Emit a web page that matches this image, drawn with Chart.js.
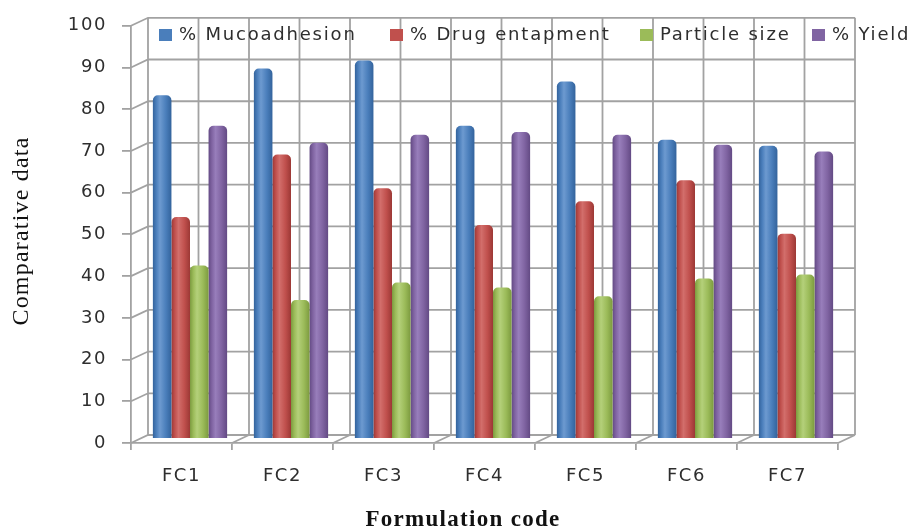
<!DOCTYPE html>
<html>
<head>
<meta charset="utf-8">
<script src="https://cdn.jsdelivr.net/npm/chart.js@4/dist/chart.umd.min.js"></script>
<style>
  html, body { margin: 0; padding: 0; background: #ffffff; }
  #wrap { width: 912px; height: 528px; }
</style>
</head>
<body>
<div id="wrap"><canvas id="chart" width="912" height="528"></canvas></div>
<script>
// Formulation codes on the category axis
const categories = ['FC1', 'FC2', 'FC3', 'FC4', 'FC5', 'FC6', 'FC7'];

// Measured values per formulation
const mucoadhesion   = [82.4, 88.8, 90.7, 75.1, 85.7, 71.7, 70.3];
const drugEntrapment = [53.2, 68.2, 60.1, 51.3, 57.0, 62.0, 49.2];
const particleSize   = [41.6, 33.3, 37.5, 36.3, 34.2, 38.5, 39.4];
const yieldPercent   = [75.1, 71.0, 72.9, 73.6, 72.9, 70.5, 68.9];

const seriesNames = ['% Mucoadhesion', '% Drug entapment', 'Particle size', '% Yield'];

// Value axis range
const yMin = 0, yMax = 100, yStep = 10;

const yTitle = 'Comparative data';
const xTitle = 'Formulation code';

// Cylinder shading: edge, body, highlight
const palette = [
  { edge: '#33639c', base: '#4a7ebb', light: '#6d9ad0' },
  { edge: '#9c3835', base: '#c0504d', light: '#d26e6b' },
  { edge: '#7c9a3f', base: '#9bbb59', light: '#b4d07a' },
  { edge: '#634a84', base: '#8064a2', light: '#987ebb' }
];

const CATEGORY_PCT = 0.735;
const DEPTH_X = 17, DEPTH_Y = -8;          // back wall offset of the 3-D box
const BAR_SHIFT_X = 8.5, BAR_SHIFT_Y = -4; // bars stand at mid depth
const LEGEND_X = [159, 390, 640, 812];     // left edge of each legend swatch
const LEGEND_Y = 35;
const GRID = '#a2a2a2';
const SANS = '"DejaVu Sans", sans-serif';
const SERIF = '"Liberation Serif", "Times New Roman", serif';

function cylinderFill(ctx) {
  const chart = ctx.chart;
  const pal = palette[ctx.datasetIndex];
  const xs = chart.scales && chart.scales.x;
  if (!xs || !chart.chartArea || ctx.type !== 'data') return pal.base;
  const cat = xs.width / categories.length;
  const group = cat * CATEGORY_PCT;
  const bw = group / seriesNames.length;
  const left = xs.getPixelForValue(ctx.dataIndex) - group / 2 + ctx.datasetIndex * bw;
  const g = chart.ctx.createLinearGradient(left, 0, left + bw, 0);
  g.addColorStop(0, pal.edge);
  g.addColorStop(0.18, pal.base);
  g.addColorStop(0.38, pal.light);
  g.addColorStop(0.7, pal.base);
  g.addColorStop(1, pal.edge);
  return g;
}

// Back wall, floor and side wall of the 3-D frame
const wallPlugin = {
  id: 'wall',
  beforeDraw(chart) {
    chart.ctx.letterSpacing = '1.6px';
  },
  beforeDatasetsDraw(chart) {
    const ctx = chart.ctx;
    const xs = chart.scales.x, ys = chart.scales.y;
    const x0 = xs.left, x1 = xs.right;
    const half = xs.width / categories.length / 2;
    ctx.save();
    ctx.strokeStyle = GRID;
    ctx.lineWidth = 1.8;
    ctx.beginPath();
    for (let v = yMin; v <= yMax; v += yStep) {
      const y = ys.getPixelForValue(v);
      ctx.moveTo(x0, y);
      ctx.lineTo(x0 + DEPTH_X, y + DEPTH_Y);
      ctx.lineTo(x1 + DEPTH_X, y + DEPTH_Y);
    }
    const yTop = ys.getPixelForValue(yMax) + DEPTH_Y;
    const yBot = ys.getPixelForValue(yMin) + DEPTH_Y;
    for (let k = 0; k <= categories.length * 2; k++) {
      const x = x0 + k * half + DEPTH_X;
      ctx.moveTo(x, yTop);
      ctx.lineTo(x, yBot);
    }
    const yf = ys.getPixelForValue(yMin);
    for (let k = 1; k <= categories.length; k++) {
      const x = x0 + k * half * 2;
      ctx.moveTo(x, yf);
      ctx.lineTo(x + DEPTH_X, yf + DEPTH_Y);
    }
    ctx.stroke();
    ctx.restore();
    ctx.save();
    ctx.translate(BAR_SHIFT_X, BAR_SHIFT_Y);
  },
  afterDatasetsDraw(chart) {
    chart.ctx.restore();
  },
  afterDraw(chart) {
    const ctx = chart.ctx;
    ctx.save();
    // legend across the top of the wall
    ctx.font = '18px ' + SANS;
    ctx.letterSpacing = '1.8px';
    ctx.textBaseline = 'middle';
    ctx.textAlign = 'left';
    chart.data.datasets.forEach((ds, i) => {
      const x = LEGEND_X[i];
      ctx.fillStyle = palette[i].base;
      ctx.fillRect(x, LEGEND_Y - 6, 13, 12);
      ctx.fillStyle = '#2e2e2e';
      ctx.fillText(ds.label, x + 20, LEGEND_Y);
    });
    // axis titles
    ctx.fillStyle = '#111111';
    ctx.font = '24px ' + SERIF;
    ctx.letterSpacing = '1.2px';
    ctx.textAlign = 'center';
    ctx.textBaseline = 'middle';
    ctx.save();
    ctx.translate(22, 231);
    ctx.rotate(-Math.PI / 2);
    ctx.fillText(yTitle, 0, 0);
    ctx.restore();
    ctx.font = 'bold 23px ' + SERIF;
    ctx.letterSpacing = '1.3px';
    ctx.textBaseline = 'alphabetic';
    ctx.fillText(xTitle, 463, 526);
    ctx.restore();
    ctx.letterSpacing = '0px';
  }
};

const seriesValues = [mucoadhesion, drugEntrapment, particleSize, yieldPercent];

new Chart(document.getElementById('chart'), {
  type: 'bar',
  data: {
    labels: categories,
    datasets: seriesNames.map((name, i) => ({
      label: name,
      data: seriesValues[i],
      backgroundColor: cylinderFill,
      borderWidth: 0,
      borderRadius: { topLeft: 5, topRight: 5, bottomLeft: 0, bottomRight: 0 },
      borderSkipped: false,
      categoryPercentage: CATEGORY_PCT,
      barPercentage: 1.0
    }))
  },
  options: {
    responsive: false,
    animation: false,
    layout: { padding: { top: 22, right: 74, left: 0, bottom: 0 } },
    plugins: { legend: { display: false }, tooltip: { enabled: false } },
    scales: {
      x: {
        offset: true,
        grid: { offset: true, drawOnChartArea: false, drawTicks: true, tickLength: 7, color: GRID, lineWidth: 1.8 },
        border: { display: true, color: GRID, width: 1.8 },
        ticks: { font: { family: SANS, size: 18 }, color: '#2e2e2e', padding: 16, autoSkip: false, maxRotation: 0 },
        afterFit(scale) { scale.height = 85; }
      },
      y: {
        min: yMin, max: yMax,
        grid: { drawOnChartArea: false, drawTicks: true, tickLength: 9, color: GRID, lineWidth: 1.8 },
        border: { display: true, color: GRID, width: 1.8 },
        ticks: { stepSize: yStep, font: { family: SANS, size: 18 }, color: '#2e2e2e', padding: 15 },
        afterFit(scale) { scale.width = 131; }
      }
    }
  },
  plugins: [wallPlugin]
});
</script>
</body>
</html>
